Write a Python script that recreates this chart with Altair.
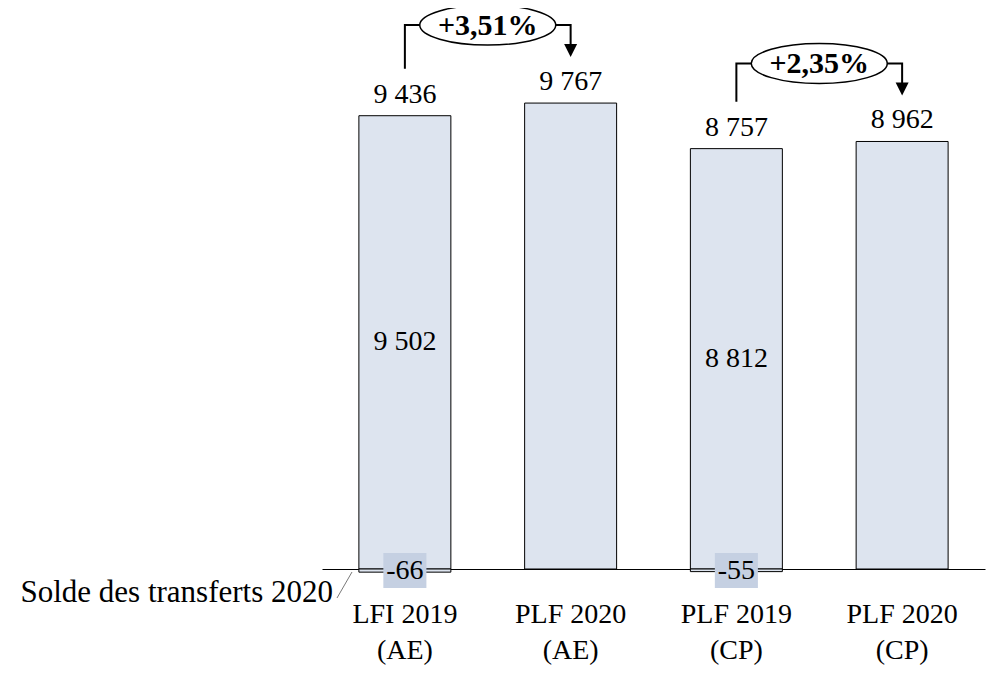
import altair as alt
import pandas as pd

# ---- data ----
categories = ["LFI 2019\n(AE)", "PLF 2020\n(AE)", "PLF 2019\n(CP)", "PLF 2020\n(CP)"]
credits = [9502, 9767, 8812, 8962]
transfers = [-66, 0, -55, 0]
totals = [9436, 9767, 8757, 8962]
evo_from = [0, 2]
evo_to = [1, 3]
evo_labels = ["+3,51%", "+2,35%"]
transfer_label = "Solde des transferts 2020"

# ---- styling ----
W, H = 663, 561
YMAX = 11760
U = YMAX / H  # data units per pixel
FONT = "Liberation Serif"
FS = 28
BAR_FILL = "#dde4ef"
BOX_FILL = "#c5d0e2"
STEP = W / len(categories)


def fmt(v):
    return f"{v:,}".replace(",", " ")


df = pd.DataFrame({
    "cat": categories,
    "credit": credits,
    "transfer": transfers,
    "total": totals,
})
df["total_lbl"] = [fmt(v) for v in totals]
df["credit_lbl"] = [fmt(v) for v in credits]
df["transfer_lbl"] = [str(v) for v in transfers]
df["mid"] = df["credit"] / 2
df["zero"] = 0

neg = df[df["transfer"] != 0]

# connector paths
rows = []
marks = []
for k, (a, b, lbl) in enumerate(zip(evo_from, evo_to, evo_labels)):
    level = max(credits[a], credits[b]) + 78 * U
    pts = [
        (categories[a], credits[a] + 47 * U),
        (categories[a], level),
        (categories[b], level),
        (categories[b], credits[b] + 58 * U),
    ]
    for i, (c, yv) in enumerate(pts):
        rows.append({"cat": c, "y": yv, "pair": k, "seq": i})
    marks.append({"cat": categories[a], "level": level, "label": lbl,
                  "tip_cat": categories[b], "tip": credits[b] + 52.5 * U})
conn = pd.DataFrame(rows)
evo = pd.DataFrame(marks)

xs = alt.Scale(domain=categories, paddingInner=0.445, paddingOuter=0.2225)
x = alt.X("cat:N", sort=categories, scale=xs,
          axis=alt.Axis(title=None, labelExpr="split(datum.label, '\\n')",
                        labelFont=FONT, labelFontSize=FS, labelColor="black",
                        labelLineHeight=36, labelPadding=31, labelBaseline="top",
                        labelAngle=0, ticks=False, tickSize=0,
                        domainColor="black", domainWidth=1, grid=False))
ys = alt.Scale(domain=[0, YMAX], nice=False, zero=False)

base = alt.Chart(df)

bars = base.mark_bar(fill=BAR_FILL, stroke="black", strokeWidth=1).encode(
    x=x, y=alt.Y("credit:Q", scale=ys, axis=None), y2=alt.Y2("zero:Q"))

negbars = alt.Chart(neg).mark_bar(fill=BAR_FILL, stroke="black", strokeWidth=1).encode(
    x=alt.X("cat:N", sort=categories, scale=xs),
    y=alt.Y("transfer:Q", scale=ys), y2=alt.Y2("zero:Q"))

tot_txt = base.mark_text(font=FONT, fontSize=FS, color="black", baseline="alphabetic", dy=-13).encode(
    x=alt.X("cat:N", sort=categories, scale=xs),
    y=alt.Y("credit:Q", scale=ys), text="total_lbl:N")

mid_txt = alt.Chart(neg).mark_text(font=FONT, fontSize=FS, color="black", baseline="middle").encode(
    x=alt.X("cat:N", sort=categories, scale=xs),
    y=alt.Y("mid:Q", scale=ys), text="credit_lbl:N")

box = alt.Chart(neg).mark_point(
    shape="M-1.23,-1H1.23V1H-1.23Z", size=1225, filled=True, fill=BOX_FILL,
    stroke=None, opacity=1, yOffset=1.5).encode(
    x=alt.X("cat:N", sort=categories, scale=xs),
    y=alt.Y("zero:Q", scale=ys))

neg_txt = alt.Chart(neg).mark_text(font=FONT, fontSize=FS, color="black", baseline="middle", dy=2).encode(
    x=alt.X("cat:N", sort=categories, scale=xs),
    y=alt.Y("zero:Q", scale=ys), text="transfer_lbl:N")

lines = alt.Chart(conn).mark_line(color="black", strokeWidth=2).encode(
    x=alt.X("cat:N", sort=categories, scale=xs),
    y=alt.Y("y:Q", scale=ys), detail="pair:N", order="seq:Q")

ellipse = alt.Chart(evo).mark_point(
    shape="M-3.4,0A3.4,1 0 1,0 3.4,0A3.4,1 0 1,0 -3.4,0Z", size=1600,
    filled=True, fill="white", stroke="black", strokeWidth=1.5, opacity=1,
    xOffset=STEP / 2).encode(
    x=alt.X("cat:N", sort=categories, scale=xs),
    y=alt.Y("level:Q", scale=ys))

evo_txt = alt.Chart(evo).mark_text(font=FONT, fontSize=30, fontWeight="bold", color="black",
                                   baseline="middle", dy=1, xOffset=STEP / 2).encode(
    x=alt.X("cat:N", sort=categories, scale=xs),
    y=alt.Y("level:Q", scale=ys), text="label:N")

heads = alt.Chart(evo).mark_point(
    shape="M-1,-1L1,-1L0,1Z", size=169, filled=True, fill="black", stroke=None, opacity=1).encode(
    x=alt.X("tip_cat:N", sort=categories, scale=xs),
    y=alt.Y("tip:Q", scale=ys))

solde = alt.Chart(pd.DataFrame({"t": [transfer_label]})).mark_text(
    font=FONT, fontSize=31, color="black", align="right", baseline="alphabetic").encode(
    x=alt.value(11), y=alt.value(H + 33), text="t:N")

slash = alt.Chart(pd.DataFrame({"t": [transfer_label]})).mark_rule(color="#555555", strokeWidth=0.8).encode(
    x=alt.value(15), x2=alt.value(30), y=alt.value(H + 29), y2=alt.value(H + 3))

chart = alt.layer(bars, negbars, mid_txt, box, neg_txt, tot_txt, lines, ellipse, evo_txt, heads,
                  solde, slash).properties(
    width=W, height=H,
    autosize=alt.AutoSizeParams(type="none"),
    padding={"left": 314, "top": 0, "right": 5, "bottom": 100},
).configure_view(stroke=None)

chart.save("out.html", embed_options={"renderer": "svg", "actions": False})
